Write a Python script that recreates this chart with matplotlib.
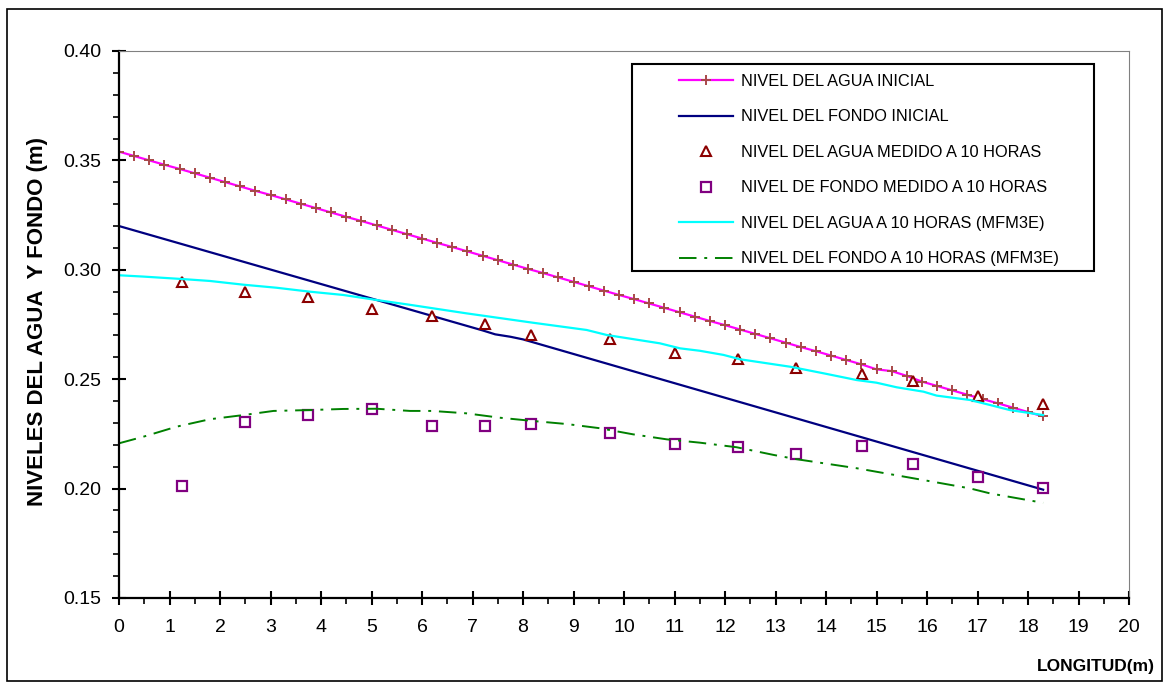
import numpy as np
import matplotlib.pyplot as plt
from matplotlib.patches import Rectangle
from matplotlib.ticker import MultipleLocator, FormatStrFormatter

plt.rcParams['font.family'] = ['Liberation Sans', 'DejaVu Sans']

# initial water surface, one point every 0.3 m
x_agua_ini = np.arange(62) * 0.3
y_agua_ini = [0.3540, 0.3520, 0.3500, 0.3480, 0.3461, 0.3441, 0.3421, 0.3401,
              0.3381, 0.3361, 0.3342, 0.3322, 0.3302, 0.3282, 0.3262, 0.3242,
              0.3223, 0.3203, 0.3183, 0.3163, 0.3143, 0.3123, 0.3104, 0.3084,
              0.3064, 0.3044, 0.3024, 0.3004, 0.2985, 0.2965, 0.2945, 0.2925,
              0.2905, 0.2885, 0.2866, 0.2846, 0.2826, 0.2806, 0.2786, 0.2766,
              0.2747, 0.2727, 0.2707, 0.2687, 0.2667, 0.2647, 0.2628, 0.2608,
              0.2588, 0.2568, 0.2545, 0.2537, 0.2515, 0.2489, 0.2469, 0.2449,
              0.2429, 0.2409, 0.2390, 0.2370, 0.2350, 0.2330]

# initial bed
x_fondo_ini = [0.0, 7.2, 7.45, 7.75, 8.0, 18.3]
y_fondo_ini = [0.3200, 0.2723, 0.2705, 0.2694, 0.2682, 0.1995]

# measurements after 10 h
x_med = [1.25, 2.5, 3.75, 5.0, 6.2, 7.25, 8.15, 9.72, 11.0, 12.25, 13.4,
         14.72, 15.72, 17.0, 18.3]
y_agua_med = [0.2946, 0.2897, 0.2877, 0.2819, 0.2790, 0.2752, 0.2702, 0.2682,
              0.2621, 0.2591, 0.2553, 0.2524, 0.2493, 0.2423, 0.2385]
y_fondo_med = [0.2012, 0.2306, 0.2336, 0.2365, 0.2286, 0.2286, 0.2294, 0.2256,
               0.2204, 0.2189, 0.2158, 0.2196, 0.2114, 0.2054, 0.2004]

# MFM3E model results after 10 h
x_agua_mod = [0, 0.48, 1.24, 1.8, 2.46, 3.12, 3.78, 4.44, 5.1, 5.76, 6.88, 8.2,
              9.26, 9.66, 10.71, 11.11, 11.5, 11.97, 12.3, 13.29, 13.95, 14.61,
              15.0, 15.4, 15.93, 16.19, 16.85, 17.25, 17.64, 18.3]
y_agua_mod = [0.2975, 0.2969, 0.2958, 0.2949, 0.2932, 0.2918, 0.2900, 0.2885,
              0.2862, 0.2840, 0.2801, 0.2758, 0.2725, 0.2702, 0.2664, 0.2641,
              0.2630, 0.2611, 0.2591, 0.2557, 0.2527, 0.2496, 0.2484, 0.2463,
              0.2443, 0.2425, 0.2405, 0.2382, 0.2359, 0.2336]

x_fondo_mod = [0, 0.48, 1.14, 1.8, 2.46, 3.06, 3.78, 4.44, 5.1, 5.76, 6.2, 6.88,
               7.54, 8.2, 8.87, 9.52, 10.18, 10.85, 11.5, 12.23, 12.96, 13.4,
               14.61, 15.0, 15.93, 16.85, 17.25, 17.91, 18.3]
y_fondo_mod = [0.2207, 0.2237, 0.2283, 0.2317, 0.2336, 0.2355, 0.2359, 0.2364,
               0.2365, 0.2355, 0.2355, 0.2344, 0.2324, 0.2309, 0.2295, 0.2276,
               0.2248, 0.2225, 0.2210, 0.2189, 0.2154, 0.2135, 0.2093, 0.2077,
               0.2039, 0.2001, 0.1978, 0.1951, 0.1935]

fig = plt.figure(figsize=(11.65, 6.82), dpi=100)
ax = fig.add_axes([119/1165, 1 - 598/682, 1010/1165, 547/682])

ax.plot(x_agua_ini, y_agua_ini, color='#FF00FF', lw=1.6, marker='+',
        ms=7, mew=1.4, mec='#A84848', label='NIVEL DEL AGUA INICIAL')
ax.plot(x_fondo_ini, y_fondo_ini, color='#000080', lw=1.6,
        label='NIVEL DEL FONDO INICIAL')
ax.plot(x_med, y_agua_med, ls='none', marker='^', ms=7, mfc='white',
        mec='#8B0000', mew=1.5, label='NIVEL DEL AGUA MEDIDO A 10 HORAS')
ax.plot(x_med, y_fondo_med, ls='none', marker='s', ms=6.5, mfc='none',
        mec='#800080', mew=1.6, label='NIVEL DE FONDO MEDIDO A 10 HORAS')
ax.plot(x_agua_mod, y_agua_mod, color='#00FFFF', lw=1.6,
        label='NIVEL DEL AGUA A 10 HORAS (MFM3E)')
ax.plot(x_fondo_mod, y_fondo_mod, color='#008000', lw=1.4,
        ls=(0, (9, 4, 1.5, 4)), label='NIVEL DEL FONDO A 10 HORAS (MFM3E)')

ax.set_xlim(0, 20)
ax.set_ylim(0.15, 0.40)
ax.xaxis.set_major_locator(MultipleLocator(1))
ax.xaxis.set_minor_locator(MultipleLocator(0.5))
ax.yaxis.set_major_locator(MultipleLocator(0.05))
ax.yaxis.set_minor_locator(MultipleLocator(0.01))
ax.yaxis.set_major_formatter(FormatStrFormatter('%.2f'))

ax.tick_params(which='major', direction='inout', length=10, width=1.5,
               labelsize=14, color='black')
ax.tick_params(axis='y', which='major', pad=8)
ax.tick_params(axis='x', which='major', pad=10)
ax.tick_params(which='minor', direction='out', length=4.5, width=1.2)

for side in ['left', 'bottom']:
    ax.spines[side].set_linewidth(1.6)
for side in ['top', 'right']:
    ax.spines[side].set_color('#808080')
    ax.spines[side].set_linewidth(0.8)

leg = ax.legend(loc='upper left', bbox_to_anchor=((679 - 119)/1010, (598 - 74)/547),
                frameon=False, fontsize=11.8, handlelength=3.3,
                handletextpad=0.5, labelspacing=1.25, borderpad=0,
                borderaxespad=0, numpoints=1)
ax.add_patch(Rectangle(((632 - 119)/1010, (598 - 271)/547), 462/1010, 207/547,
                       transform=ax.transAxes, fill=False, ec='black', lw=1.5,
                       zorder=4))

fig.text(38/1165, 1 - 322/682, 'NIVELES DEL AGUA  Y FONDO (m)', rotation=90,
         ha='center', va='center', fontsize=16, fontweight='bold')
fig.text(1155/1165, 1 - 667/682, 'LONGITUD(m)', ha='right', va='center',
         fontsize=12.5, fontweight='bold')

fig.add_artist(Rectangle((7/1165, 1/682), 1155/1165, 672/682,
                         transform=fig.transFigure, fill=False,
                         ec='black', lw=1.2))

fig.savefig('out.png', dpi=100)
